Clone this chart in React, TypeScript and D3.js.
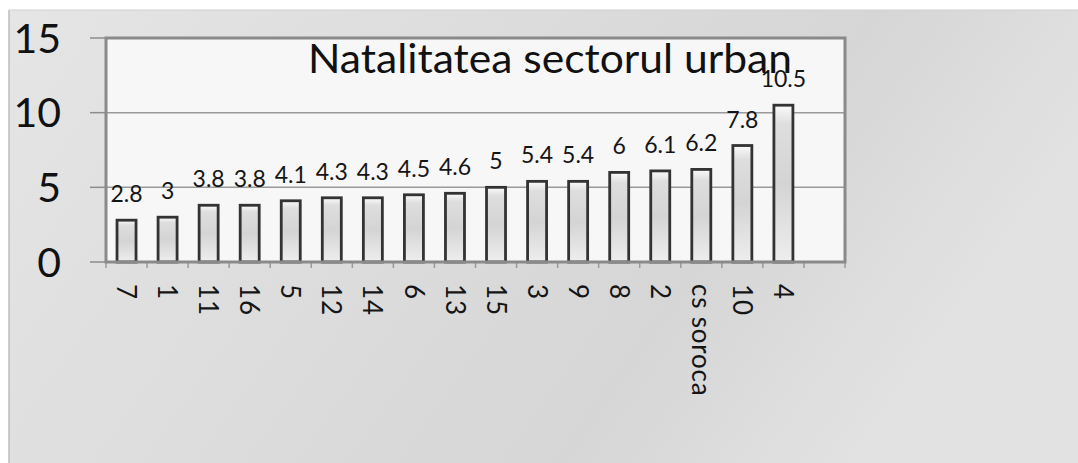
import React from "react";
import * as d3 from "d3";

const categories: string[] = ["7", "1", "11", "16", "5", "12", "14", "6", "13", "15", "3", "9", "8", "2", "cs soroca", "10", "4"];
const values: number[] = [2.8, 3, 3.8, 3.8, 4.1, 4.3, 4.3, 4.5, 4.6, 5, 5.4, 5.4, 6, 6.1, 6.2, 7.8, 10.5];
const valueLabels: string[] = ["2.8", "3", "3.8", "3.8", "4.1", "4.3", "4.3", "4.5", "4.6", "5", "5.4", "5.4", "6", "6.1", "6.2", "7.8", "10.5"];
const yTicks: number[] = [0, 5, 10, 15];
const title = "Natalitatea sectorul urban";

const W = 1078;
const H = 463;
const FONT = "Lato, 'Open Sans', sans-serif";

export default function App() {
  const left = 106, right = 845, top = 38, bottom = 262;
  // 18 slots: the category axis has one trailing empty slot
  const slots = d3.range(categories.length + 1);
  const x = d3.scaleBand<number>().domain(slots).range([left, right]).paddingInner(0).paddingOuter(0);
  const y = d3.scaleLinear().domain([0, 15]).range([bottom, top]);
  const step = x.step();
  const barW = 19;

  return (
    <svg width={W} height={H} style={{ position: "absolute", left: 0, top: 0 }} xmlns="http://www.w3.org/2000/svg">
      <defs>
        <linearGradient id="bg" x1="0" y1="0" x2="1" y2="0.3">
          <stop offset="0" stopColor="#e5e5e5" />
          <stop offset="0.45" stopColor="#dcdcdc" />
          <stop offset="0.75" stopColor="#d6d6d6" />
          <stop offset="1" stopColor="#e2e2e2" />
        </linearGradient>
        <linearGradient id="bar" x1="0" y1="0" x2="0" y2="1">
          <stop offset="0" stopColor="#fbfbfb" />
          <stop offset="0.12" stopColor="#dedede" />
          <stop offset="0.5" stopColor="#d4d4d4" />
          <stop offset="1" stopColor="#eeeeee" />
        </linearGradient>
      </defs>
      <rect x={0} y={0} width={W} height={H} fill="#ffffff" />
      <rect x={9} y={10} width={W - 9} height={H - 10} fill="url(#bg)" />
      <line x1={9} y1={10} x2={9} y2={H} stroke="#bdbdbd" strokeWidth={1.5} />
      <line x1={9} y1={10} x2={W} y2={10} stroke="#d0d0d0" strokeWidth={1} />

      {/* plot area */}
      <rect x={left} y={top} width={right - left} height={bottom - top} fill="#f7f7f7" />
      {yTicks.filter(t => t > 0 && t < 15).map(t => (
        <line key={"g" + t} x1={left} x2={right} y1={y(t)} y2={y(t)} stroke="#9a9a9a" strokeWidth={1.5} />
      ))}

      {/* y ticks and labels */}
      {yTicks.map(t => (
        <g key={"yt" + t}>
          <line x1={90} x2={left} y1={y(t)} y2={y(t)} stroke="#8c8c8c" strokeWidth={1.5} />
          <text x={61} y={y(t)} dy="0.36em" textAnchor="end" fontFamily={FONT} fontSize={41} fill="#111">{t}</text>
        </g>
      ))}

      {/* x ticks */}
      {d3.range(slots.length + 1).map(i => (
        <line key={"xt" + i} x1={left + i * step} x2={left + i * step} y1={bottom} y2={bottom + 6} stroke="#9a9a9a" strokeWidth={1.5} />
      ))}

      {/* bars */}
      {values.map((v, i) => {
        const cx = (x(i) as number) + step / 2;
        return (
          <g key={"b" + i}>
            <rect x={cx - barW / 2} y={y(v)} width={barW} height={bottom - y(v)} fill="url(#bar)" stroke="#333" strokeWidth={2.8} />
            <text x={cx} y={y(v) - 18} textAnchor="middle" fontFamily={FONT} fontSize={23} fill="#151515">{valueLabels[i]}</text>
          </g>
        );
      })}

      {/* frame */}
      <rect x={left} y={top} width={right - left} height={bottom - top} fill="none" stroke="#8a8a8a" strokeWidth={3} />

      {/* category labels */}
      {categories.map((c, i) => {
        const cx = (x(i) as number) + step / 2;
        return (
          <text key={"c" + i} transform={`translate(${cx},284) rotate(90)`} dy="0.36em" textAnchor="start" fontFamily={FONT} fontSize={26} letterSpacing={0.8} fill="#151515">{c}</text>
        );
      })}

      <text x={308} y={73} fontFamily={FONT} fontSize={41} textLength={484} lengthAdjust="spacingAndGlyphs" fill="#111">{title}</text>
    </svg>
  );
}
